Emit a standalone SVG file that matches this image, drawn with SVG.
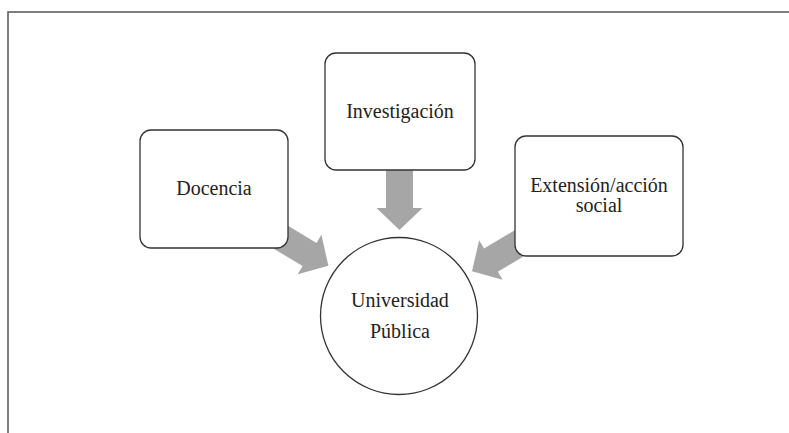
<svg xmlns="http://www.w3.org/2000/svg" width="789" height="433" viewBox="0 0 789 433">
<style>
.frame{fill:none;stroke:#555;stroke-width:1.5}
.box{fill:#fff;stroke:#333;stroke-width:1.3}
.arrow{fill:#a6a6a6;stroke:none}
.lbl{font-family:'Liberation Serif','DejaVu Serif','Times New Roman',Times,serif;font-size:20px;fill:#222;text-anchor:middle}
</style>
<defs>
<path id="arr" d="M0,0 L-22,-23 L-22,-13.5 L-75,-13.5 L-75,13.5 L-22,13.5 L-22,23 Z"/>
</defs>
<rect width="789" height="433" fill="#fff"/>
<path class="frame" d="M8,433 L8,12 L789,12"/>
<g id="connectors">
<use href="#arr" class="arrow" transform="translate(328.4,265.8) rotate(31)"/>
<use href="#arr" class="arrow" transform="translate(399.5,230) rotate(90)"/>
<use href="#arr" class="arrow" transform="translate(472,271.3) rotate(149.3)"/>
</g>
<g id="docencia">
<rect class="box" x="140" y="130" width="148" height="118" rx="11"/>
<text class="lbl" x="214" y="195" font-family="Liberation Serif, serif">Docencia</text>
</g>
<g id="investigacion">
<rect class="box" x="325" y="53" width="150" height="117" rx="11"/>
<text class="lbl" x="400" y="118">Investigación</text>
</g>
<g id="extension">
<rect class="box" x="515" y="136" width="168" height="120" rx="11"/>
<text class="lbl" x="599" y="192">Extensión/acción</text>
<text class="lbl" x="599" y="212">social</text>
</g>
<g id="universidad">
<circle class="box" cx="399" cy="316" r="78.5"/>
<text class="lbl" x="400" y="307">Universidad</text>
<text class="lbl" x="400" y="338">Pública</text>
</g>
</svg>
